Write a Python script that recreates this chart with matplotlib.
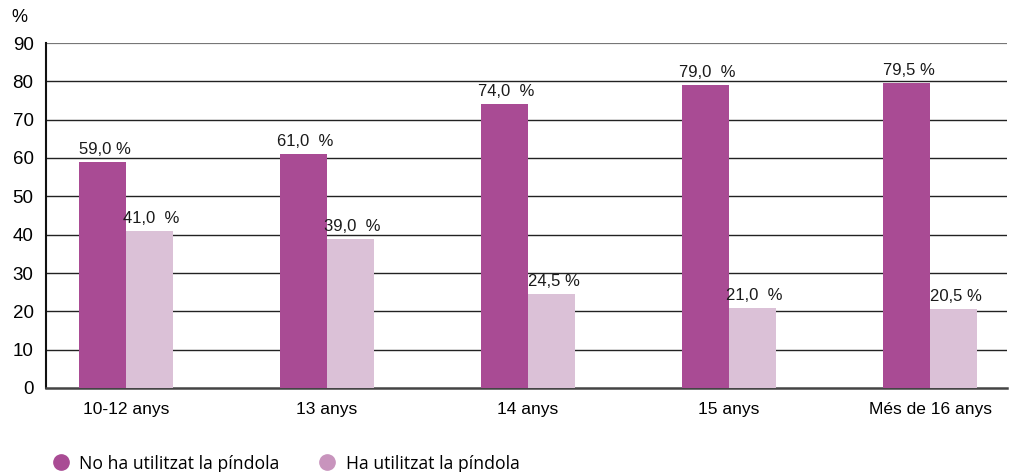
import matplotlib
matplotlib.use("Agg")
import matplotlib.pyplot as plt
from matplotlib.lines import Line2D
import numpy as np

categories = ["10-12 anys", "13 anys", "14 anys", "15 anys", "Més de 16 anys"]
no_usat = [59.0, 61.0, 74.0, 79.0, 79.5]
usat = [41.0, 39.0, 24.5, 21.0, 20.5]
no_usat_labels = ["59,0 %", "61,0  %", "74,0  %", "79,0  %", "79,5 %"]
usat_labels = ["41,0  %", "39,0  %", "24,5 %", "21,0  %", "20,5 %"]
series_names = ["No ha utilitzat la píndola", "Ha utilitzat la píndola"]
yticks = [0, 10, 20, 30, 40, 50, 60, 70, 80, 90]

c_dark = "#A94B94"
c_light = "#DBC1D7"
c_light_marker = "#C894BD"

plt.rcParams['font.family'] = ['Liberation Sans', 'DejaVu Sans']

fig = plt.figure(figsize=(10.09, 4.72), dpi=100)
ax = fig.add_axes([46/1009, 1-388/472, (1007-46)/1009, (388-43)/472])

x = np.arange(len(categories))
w = 0.234
ax.bar(x - w/2, no_usat, width=w, color=c_dark, zorder=3)
ax.bar(x + w/2, usat, width=w, color=c_light, zorder=3)

for xi, v, lab in zip(x, no_usat, no_usat_labels):
    ax.text(xi - w/2 + 0.01, v + 1.3, lab, ha="center", va="bottom", fontsize=12, color="#1a1a1a", zorder=4)
for xi, v, lab in zip(x, usat, usat_labels):
    ax.text(xi + w/2 + 0.01, v + 1.3, lab, ha="center", va="bottom", fontsize=12, color="#1a1a1a", zorder=4)

ax.set_ylim(0, 90)
ax.set_xlim(-0.398, 4.383)
ax.set_yticks(yticks)
ax.set_xticks(x)
ax.set_xticklabels(categories, fontsize=12.5)
ax.tick_params(axis="y", labelsize=13.5, length=0, pad=9)
ax.tick_params(axis="x", length=0, pad=10)
for t in yticks[1:-1]:
    ax.axhline(t, color="#222222", lw=1.0, zorder=1)
ax.axhline(90, color="#777777", lw=1.6, zorder=1)

for s in ["right", "top"]:
    ax.spines[s].set_visible(False)
ax.spines["left"].set_color("#111111")
ax.spines["left"].set_linewidth(1.5)
ax.spines["bottom"].set_color("#444444")
ax.spines["bottom"].set_linewidth(1.8)

fig.text(11/1009, 1-18/472, "%", fontsize=13, ha="left", va="center")

handles = [Line2D([], [], marker="o", linestyle="none", markersize=11, color=c_dark),
           Line2D([], [], marker="o", linestyle="none", markersize=11, color=c_light_marker)]
fig.legend(handles, series_names, loc="lower left", bbox_to_anchor=(27/1009, -0.035),
           ncol=2, frameon=False, handletextpad=0.05, columnspacing=1.7,
           prop={"family": "Open Sans", "size": 12.7})

fig.savefig("out.png", dpi=100)
